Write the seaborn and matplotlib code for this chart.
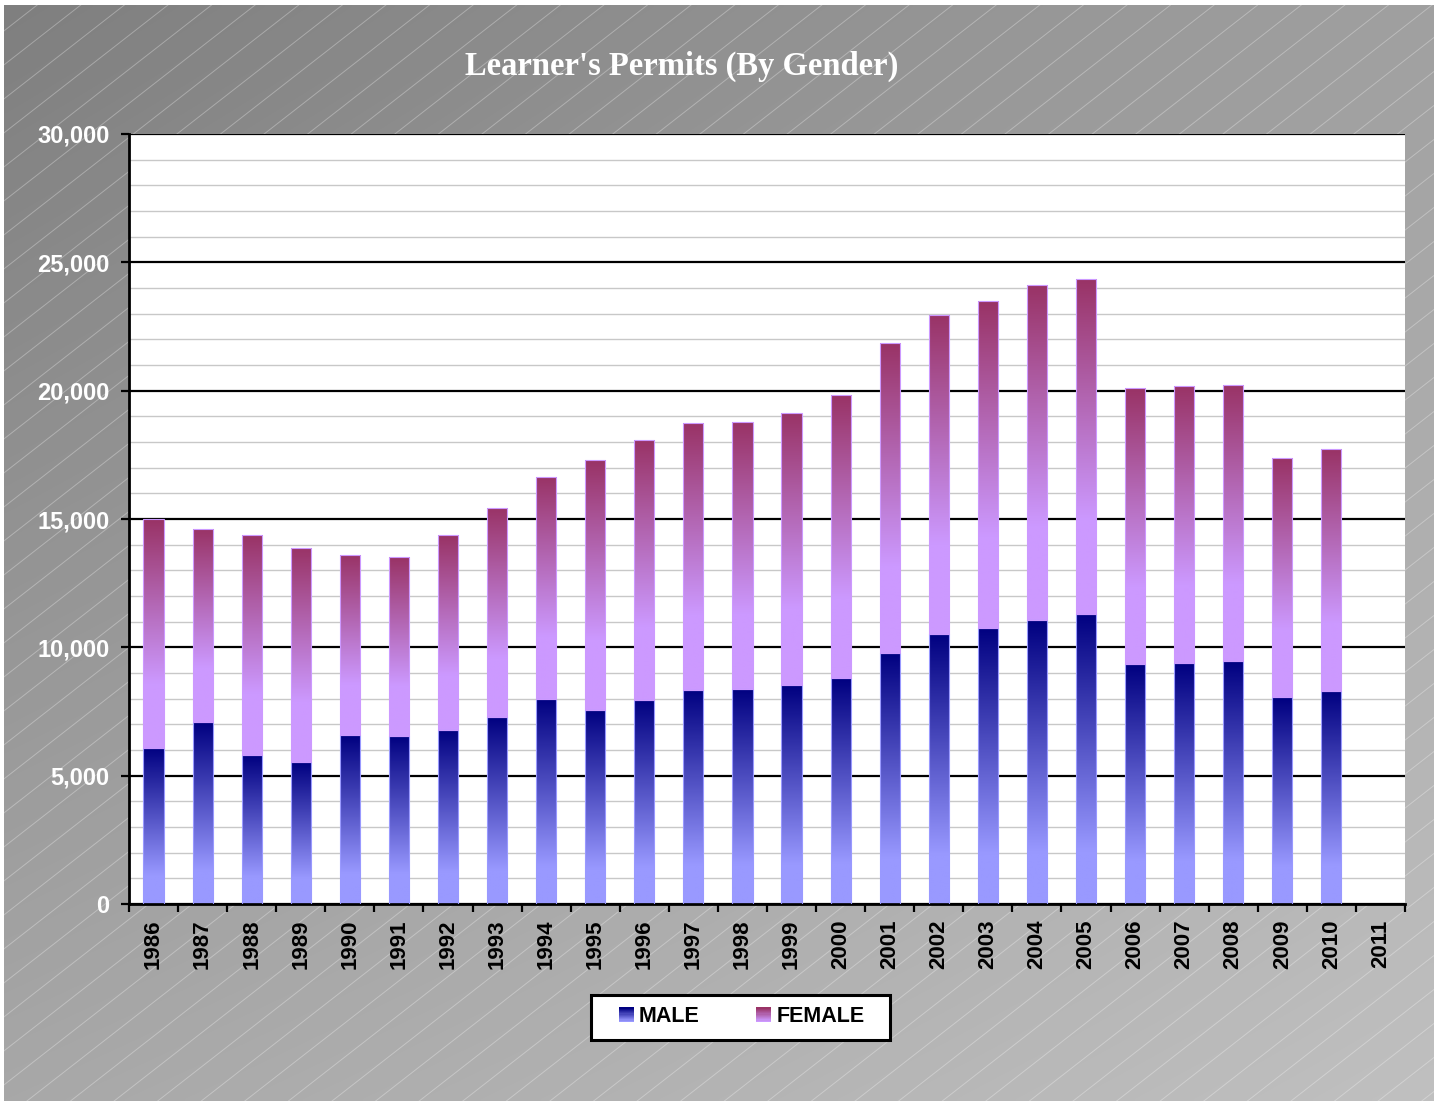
import numpy as np
import pandas as pd
import matplotlib
matplotlib.use("Agg")
import matplotlib.pyplot as plt
import seaborn as sns
from matplotlib.patches import Rectangle
from matplotlib.legend_handler import HandlerBase
from matplotlib.ticker import MultipleLocator, FuncFormatter, FixedLocator, NullFormatter
from matplotlib.colors import to_rgb

# ---------------- data ----------------
years = [str(y) for y in range(1986, 2011)]
all_years = years + ["2011"]
male = [6080, 7090, 5800, 5530, 6580, 6560, 6790, 7280, 7990, 7560,
        7950, 8340, 8380, 8530, 8800, 9780, 10520, 10760, 11060, 11300,
        9350, 9380, 9450, 8060, 8310]
female = [8920, 7520, 8570, 8340, 7020, 6960, 7590, 8150, 8650, 9740,
          10130, 10400, 10400, 10600, 11030, 12070, 12430, 12730, 13050, 13050,
          10750, 10800, 10770, 9310, 9420]
series_names = ["MALE", "FEMALE"]
title = "Learner's Permits (By Gender)"

# ---------------- style ----------------
sns.set_style("white")
plt.rcParams["font.family"] = ["Liberation Sans", "DejaVu Sans"]
plt.rcParams["text.color"] = "black"

W, H = 1434, 1101
fig = plt.figure(figsize=(W / 100, H / 100), dpi=100)
fig.patch.set_facecolor("white")

# background gradient with diagonal stripes
bg = fig.add_axes([0, 0, 1, 1], zorder=-10)
xx, yy = np.meshgrid(np.linspace(0, 1, 300), np.linspace(0, 1, 300))
v = (127 + 33 * xx + 41 * yy - 9 * xx * yy) / 255.0
img = np.dstack([v, v, v])
bg.imshow(img, extent=[4, W, H, 5], aspect="auto", origin="upper",
          interpolation="bilinear")
clip_rect = Rectangle((4, 5), W - 4, H - 5, transform=bg.transData)
slope = 0.78
for c in np.arange(0, H + slope * W + 40, 34):
    ln, = bg.plot([0, W], [c, c - slope * W], color="white", lw=0.7, alpha=0.3)
    ln.set_clip_path(clip_rect)
bg.set_xlim(0, W)
bg.set_ylim(H, 0)
bg.axis("off")

# main axes
ax = fig.add_axes([129 / W, 1 - 904 / H, (1405 - 129) / W, (904 - 134) / H])
ax.set_facecolor("white")

df = pd.DataFrame({"year": years, "male": male, "female": female})

n0 = len(ax.patches)
sns.barplot(data=df, x="year", y="male", order=all_years, color="#9999ff",
            width=0.41, errorbar=None, ax=ax, linewidth=0.8,
            edgecolor="#9999ff")
pm = list(ax.patches)[n0:]
n1 = len(ax.patches)
sns.barplot(data=df, x="year", y="female", order=all_years, color="#cc99ff",
            width=0.41, errorbar=None, ax=ax, linewidth=0.8,
            edgecolor="#cc99ff")
pf = list(ax.patches)[n1:]

# stack female on top of male
for f, m in zip(pf, pm):
    f.set_y(m.get_y() + m.get_height())


def gradient_fill(patch, top, bottom, frac=0.8):
    top = np.array(to_rgb(top))
    bottom = np.array(to_rgb(bottom))
    x0, y0 = patch.get_x(), patch.get_y()
    w, h = patch.get_width(), patch.get_height()
    t = np.linspace(0, 1, 256)
    s = np.clip(t / frac, 0, 1)[:, None]
    cols = top * (1 - s) + bottom * s
    im = ax.imshow(cols[:, None, :], extent=[x0, x0 + w, y0, y0 + h],
                   origin="upper", aspect="auto", interpolation="bilinear",
                   zorder=2)
    im.set_clip_path(patch)
    patch.set_facecolor("none")
    patch.set_zorder(3)


for p in pm:
    gradient_fill(p, "#000080", "#9999ff", 0.82)
for p in pf:
    gradient_fill(p, "#993366", "#cc99ff", 0.72)

ax.set_xlim(-0.5, len(all_years) - 0.5)
ax.set_ylim(0, 30000)

# grid
ax.yaxis.set_major_locator(MultipleLocator(5000))
ax.yaxis.set_minor_locator(MultipleLocator(1000))
ax.yaxis.set_major_formatter(FuncFormatter(lambda v, p: f"{int(v):,}"))
ax.grid(False)
ax.grid(axis="y", which="major", color="black", lw=1.6)
ax.grid(axis="y", which="minor", color="#c8c8c8", lw=1.0)
ax.set_axisbelow(True)

# x ticks: labels at centres, tick marks at boundaries
ax.xaxis.set_major_locator(FixedLocator(range(len(all_years))))
ax.set_xticklabels(all_years)
ax.xaxis.set_minor_locator(FixedLocator(np.arange(-0.5, len(all_years), 1.0)))
ax.xaxis.set_minor_formatter(NullFormatter())
ax.tick_params(axis="x", which="major", length=0, pad=11, labelsize=16,
               labelrotation=90, labelcolor="black")
ax.tick_params(axis="x", which="minor", length=6, width=1.6, color="black",
               direction="out", bottom=True)
for lbl in ax.get_xticklabels():
    lbl.set_fontweight("bold")
    lbl.set_color("black")

ax.tick_params(axis="y", which="major", length=6, width=1.6, color="black",
               direction="out", left=True, pad=8, labelsize=17,
               labelcolor="white")
ax.tick_params(axis="y", which="minor", length=0, left=False)
for lbl in ax.get_yticklabels():
    lbl.set_fontweight("bold")

ax.set_xlabel("")
ax.set_ylabel("")
for side in ["top", "right"]:
    ax.spines[side].set_visible(False)
for side in ["left", "bottom"]:
    ax.spines[side].set_visible(True)
    ax.spines[side].set_color("black")
    ax.spines[side].set_linewidth(2.0)

# title
fig.text(682 / W, 1 - 66 / H, title, ha="center", va="center",
         fontsize=23.5, fontweight="bold", color="white",
         family=["Liberation Serif", "DejaVu Serif"])


# legend with gradient squares
class GradHandler(HandlerBase):
    def __init__(self, top, bottom):
        super().__init__()
        self.top = np.array(to_rgb(top))
        self.bottom = np.array(to_rgb(bottom))

    def create_artists(self, legend, orig_handle, xdescent, ydescent,
                       width, height, fontsize, trans):
        s = height
        x0 = -xdescent + width - s
        y0 = -ydescent
        n = 12
        arts = []
        for i in range(n):
            t = i / (n - 1)
            c = self.top * (1 - t) + self.bottom * t
            arts.append(Rectangle((x0, y0 + s * (n - 1 - i) / n), s, s / n + 0.3,
                                  facecolor=c, edgecolor="none",
                                  transform=trans))
        return arts


h_m = Rectangle((0, 0), 1, 1)
h_f = Rectangle((0, 0), 1, 1)
fig.add_artist(Rectangle((591 / W, 1 - 1040 / H), (890 - 591) / W, 45 / H,
                         transform=fig.transFigure, facecolor="white",
                         edgecolor="black", lw=2.2, zorder=4))
leg = fig.legend(handles=[h_m, h_f], labels=series_names,
                 handler_map={h_m: GradHandler("#000080", "#9999ff"),
                              h_f: GradHandler("#993366", "#cc99ff")},
                 loc="center", bbox_to_anchor=(742 / W, 1 - 1017 / H),
                 ncol=2, frameon=False, prop={"weight": "bold", "size": 15.5},
                 handlelength=0.65, handleheight=0.65, handletextpad=0.25,
                 columnspacing=2.65, labelcolor="black")
leg.set_zorder(5)

fig.savefig("out.png", dpi=100, facecolor=fig.get_facecolor())
